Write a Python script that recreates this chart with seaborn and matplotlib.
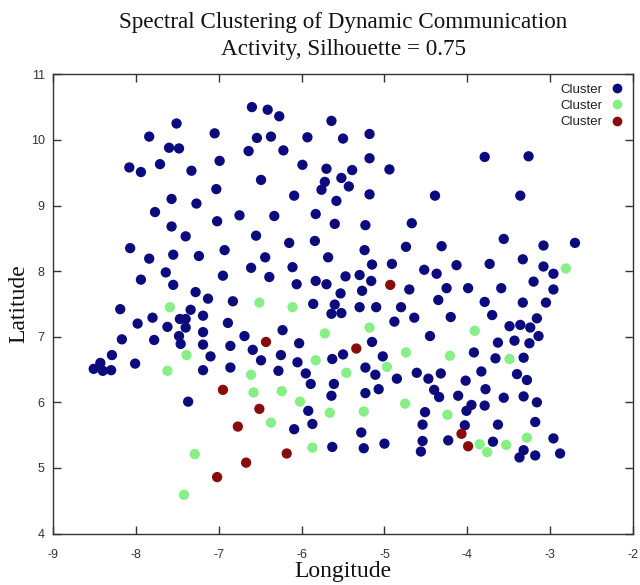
import numpy as np
import pandas as pd
import matplotlib
matplotlib.use("Agg")
import matplotlib.pyplot as plt
import seaborn as sns
from matplotlib.lines import Line2D

# ---- data ----
blue_lon = [-7.51, -7.84, -7.05, -7.60, -7.48, -6.99, -8.08, -7.94, -7.71, -7.33, -7.03, -7.57, -7.27, -7.77, -7.02, -6.75, -7.57,
            -6.60, -6.41, -6.27, -5.64, -6.54, -6.37, -5.93, -5.50, -5.18, -6.64, -6.22, -5.99, -5.70, -5.39, -5.18, -4.94,
            -6.49, -5.52, -5.72, -5.43, -5.76, -6.09, -5.58, -5.18, -6.33, -5.83, -5.60, -5.23, -4.67,
            -3.79, -3.26, -4.39, -3.36,
            -7.40, -8.07, -7.84, -7.55, -7.24, -6.93, -7.64, -6.95, -7.94, -7.55, -7.28, -7.13, -6.83, -8.19, -7.34, -7.80,
            -7.98, -7.19, -7.47, -7.40, -7.40, -7.62, -6.89, -7.19, -8.17, -7.78, -7.48, -7.46, -7.19, -6.86, -8.29, -7.10,
            -8.43, -8.01, -8.51, -8.40, -8.30, -7.19, -6.86,
            -6.55, -6.15, -5.84, -5.24, -4.74, -6.44, -5.68, -6.61, -6.11, -5.15, -4.91, -4.52, -6.39, -5.47, -5.30, -6.06,
            -5.83, -5.70, -5.16, -5.53, -5.27, -4.70, -5.86, -5.60, -5.64, -5.52, -5.30, -5.10, -4.80, -4.88, -4.64, -6.23,
            -6.69, -6.03, -5.15, -4.45, -6.59, -6.25, -6.05, -5.50, -5.63, -5.02, -6.49, -5.23, -6.28, -5.95, -5.11, -4.85, -4.61,
            -4.31, -3.56, -3.08, -2.70, -4.37, -4.13, -3.73, -3.33, -3.08, -2.96, -3.20, -4.25, -3.99, -3.59, -2.96, -4.35,
            -3.79, -3.33, -3.05, -4.20, -3.70, -3.16, -3.49, -3.36, -3.24, -3.14, -3.63, -3.43, -3.25, -3.92, -3.66, -3.32,
            -4.32, -4.47, -3.83, -4.02, -3.40, -3.28,
            -7.37,
            -5.89, -5.61, -5.64, -5.23, -5.07, -5.92, -4.51, -5.87, -6.09, -5.28, -4.54, -4.54, -5.63, -5.25, -5.00, -4.56,
            -4.40, -4.34, -3.78, -4.11, -3.56, -3.32, -3.16, -3.95, -4.01, -3.79, -4.03, -3.63, -3.18, -4.23, -3.69, -3.32,
            -3.37, -3.18, -2.96, -2.88]
blue_lat = [10.25, 10.05, 10.10, 9.88, 9.87, 9.68, 9.58, 9.51, 9.63, 9.53, 9.25, 9.10, 9.03, 8.90, 8.76, 8.85, 8.68,
            10.50, 10.46, 10.36, 10.29, 10.03, 10.05, 10.04, 10.02, 10.09, 9.83, 9.84, 9.62, 9.56, 9.54, 9.72, 9.55,
            9.39, 9.42, 9.36, 9.29, 9.24, 9.15, 9.07, 9.17, 8.84, 8.87, 8.72, 8.70, 8.73,
            9.74, 9.75, 9.15, 9.15,
            8.53, 8.35, 8.19, 8.25, 8.23, 8.32, 7.98, 7.93, 7.87, 7.79, 7.68, 7.58, 7.54, 7.42, 7.41, 7.29,
            7.20, 7.32, 7.27, 7.27, 7.14, 7.15, 7.21, 7.07, 6.96, 6.95, 7.01, 6.89, 6.88, 6.86, 6.72, 6.70,
            6.60, 6.59, 6.51, 6.48, 6.49, 6.49, 6.53,
            8.54, 8.43, 8.46, 8.32, 8.37, 8.21, 8.21, 8.05, 8.06, 8.10, 8.11, 8.02, 7.91, 7.92, 7.94, 7.80,
            7.85, 7.80, 7.85, 7.66, 7.70, 7.72, 7.50, 7.49, 7.35, 7.36, 7.45, 7.45, 7.45, 7.23, 7.29, 7.10,
            7.01, 6.90, 6.92, 7.01, 6.80, 6.72, 6.61, 6.73, 6.66, 6.70, 6.64, 6.53, 6.48, 6.44, 6.42, 6.36, 6.45,
            8.38, 8.49, 8.39, 8.43, 7.96, 8.09, 8.11, 8.18, 8.07, 7.96, 7.84, 7.74, 7.74, 7.74, 7.72, 7.56,
            7.53, 7.52, 7.52, 7.30, 7.33, 7.28, 7.16, 7.18, 7.14, 7.01, 6.91, 6.94, 6.90, 6.76, 6.67, 6.68,
            6.44, 6.36, 6.47, 6.33, 6.43, 6.34,
            6.01,
            6.28, 6.28, 6.10, 6.14, 6.20, 5.87, 5.85, 5.67, 5.59, 5.54, 5.66, 5.41, 5.32, 5.30, 5.37, 5.25,
            6.19, 6.08, 6.20, 6.10, 6.07, 6.09, 6.00, 5.96, 5.87, 5.95, 5.65, 5.66, 5.70, 5.42, 5.40, 5.27,
            5.16, 5.19, 5.45, 5.22]

green_lon = [-7.59, -7.39, -7.62, -6.51, -6.11, -5.72, -5.18, -5.83, -4.74, -4.97, -6.61, -5.46, -2.81, -3.91, -4.21,
             -3.49, -7.29, -7.42, -6.58, -6.24, -6.02, -4.75, -5.66, -5.25, -6.37, -5.87, -4.24, -3.85, -3.76, -3.53, -3.28]
green_lat = [7.45, 6.72, 6.48, 7.52, 7.45, 7.05, 7.14, 6.64, 6.76, 6.54, 6.42, 6.45, 8.04, 7.09, 6.71,
             6.66, 5.21, 4.59, 6.15, 6.17, 6.01, 5.98, 5.84, 5.86, 5.69, 5.31, 5.81, 5.36, 5.24, 5.35, 5.46]

red_lon = [-4.93, -6.43, -5.34, -6.95, -6.77, -6.51, -7.02, -6.18, -6.67, -4.07, -3.99]
red_lat = [7.79, 6.92, 6.82, 6.19, 5.63, 5.90, 4.86, 5.22, 5.08, 5.52, 5.33]

cluster_names = ["Cluster 1", "Cluster 2", "Cluster 3"]
legend_labels = ["Cluster", "Cluster", "Cluster"]
cluster_colors = ["#0b0b7d", "#86f086", "#8a0b0b"]
x_ticks = [-9, -8, -7, -6, -5, -4, -3, -2]
y_ticks = [4, 5, 6, 7, 8, 9, 10, 11]

df = pd.concat([
    pd.DataFrame({"Longitude": blue_lon, "Latitude": blue_lat, "cluster": cluster_names[0]}),
    pd.DataFrame({"Longitude": green_lon, "Latitude": green_lat, "cluster": cluster_names[1]}),
    pd.DataFrame({"Longitude": red_lon, "Latitude": red_lat, "cluster": cluster_names[2]}),
], ignore_index=True)

sns.set_style("white")
plt.rcParams["axes.unicode_minus"] = False

fig = plt.figure(figsize=(6.4, 5.85), dpi=100)
ax = fig.add_axes([0.083, 0.088, 0.906, 0.785])

sns.scatterplot(data=df, x="Longitude", y="Latitude", hue="cluster",
                hue_order=cluster_names, palette=cluster_colors,
                marker="o", s=55, edgecolor="none", linewidth=0, ax=ax, legend=False)

ax.set_xlim(-9, -2)
ax.set_ylim(4, 11)
ax.set_xticks(x_ticks)
ax.set_yticks(y_ticks)
ax.set_xticklabels([str(t) for t in x_ticks])
ax.set_yticklabels([str(t) for t in y_ticks])
ax.tick_params(direction="in", length=6, width=1, color="#333333",
               top=True, right=True, bottom=True, left=True,
               labelsize=9, labelcolor="#333333")
ax.tick_params(axis="x", pad=11)
ax.tick_params(axis="y", pad=6)
for lab in ax.get_xticklabels() + ax.get_yticklabels():
    lab.set_family("Liberation Sans")
for sp in ax.spines.values():
    sp.set_color("#333333")
    sp.set_linewidth(1.0)
    sp.set_visible(True)

serif = ["Liberation Serif", "DejaVu Serif"]
ax.set_title("Spectral Clustering of Dynamic Communication\nActivity, Silhouette = 0.75",
             fontsize=16.7, family=serif, color="#111111", pad=14, linespacing=1.35)
ax.set_xlabel("Longitude", fontsize=17, family=serif, color="#111111", labelpad=0)
ax.set_ylabel("Latitude", fontsize=17, family=serif, color="#111111", labelpad=1)

# legend: text on the left, marker on the right
handles = [Line2D([0], [0], marker="o", linestyle="none", markersize=7,
                  markerfacecolor=c, markeredgecolor="none") for c in cluster_colors]
leg = ax.legend(handles, legend_labels, loc="upper right", frameon=False,
                markerfirst=False, handletextpad=0.6,
                labelspacing=0.3, borderaxespad=0.3, handlelength=1.0,
                prop={"family": "Liberation Sans", "size": 9.5})
for t in leg.get_texts():
    t.set_color("#222222")

fig.savefig("out.png", dpi=100)
